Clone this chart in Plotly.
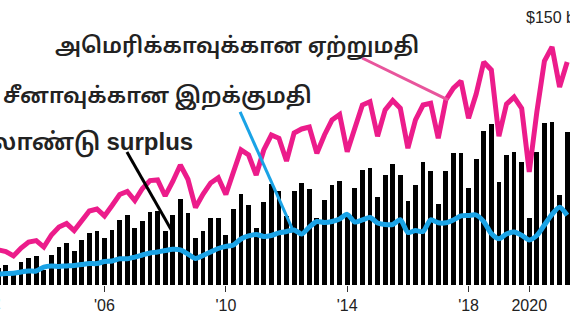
import plotly.graph_objects as go

# Quarterly US-China trade, $ billions
quarters = [
    "2002Q3", "2002Q4",
    "2003Q1", "2003Q2", "2003Q3", "2003Q4",
    "2004Q1", "2004Q2", "2004Q3", "2004Q4",
    "2005Q1", "2005Q2", "2005Q3", "2005Q4",
    "2006Q1", "2006Q2", "2006Q3", "2006Q4",
    "2007Q1", "2007Q2", "2007Q3", "2007Q4",
    "2008Q1", "2008Q2", "2008Q3", "2008Q4",
    "2009Q1", "2009Q2", "2009Q3", "2009Q4",
    "2010Q1", "2010Q2", "2010Q3", "2010Q4",
    "2011Q1", "2011Q2", "2011Q3", "2011Q4",
    "2012Q1", "2012Q2", "2012Q3", "2012Q4",
    "2013Q1", "2013Q2", "2013Q3", "2013Q4",
    "2014Q1", "2014Q2", "2014Q3", "2014Q4",
    "2015Q1", "2015Q2", "2015Q3", "2015Q4",
    "2016Q1", "2016Q2", "2016Q3", "2016Q4",
    "2017Q1", "2017Q2", "2017Q3", "2017Q4",
    "2018Q1", "2018Q2", "2018Q3", "2018Q4",
    "2019Q1", "2019Q2", "2019Q3", "2019Q4",
    "2020Q1", "2020Q2", "2020Q3", "2020Q4",
    "2021Q1", "2021Q2",
]

# Quarterly surplus (bars)
surplus = [
    10.7, 12.4,
    7.6, 14.5, 17.2, 18.1,
    9.5, 19.1, 23.9, 26.5,
    21.6, 28.2, 32.9, 33.8,
    29.6, 34.7, 41.0, 43.9,
    35.7, 40.5, 46.2, 46.4,
    33.9, 43.9, 53.9, 45.4,
    29.7, 33.9, 42.2, 42.2,
    31.6, 48.0, 57.6, 50.4,
    35.6, 52.0, 63.5, 59.0,
    43.5, 59.5, 64.4, 60.3,
    42.1, 53.7, 62.7, 65.8,
    44.1, 61.2, 72.7, 73.6,
    55.4, 69.6, 76.5, 69.3,
    52.8, 62.9, 77.7, 71.7,
    51.3, 71.7, 83.3, 83.3,
    60.9, 79.2, 97.2, 101.4,
    65.1, 81.9, 84.0, 77.3,
    42.0, 84.0, 102.2, 102.9,
    56.7, 96.6,
]

# Exports to the US (pink line)
exports_us = [
    22.1, 21.1,
    18.3, 23.3, 27.1, 28.0,
    23.9, 31.5, 36.5, 38.7,
    34.3, 41.0, 46.6, 47.9,
    43.5, 50.1, 57.0, 58.9,
    53.2, 60.8, 65.8, 66.2,
    56.1, 65.2, 75.6, 66.6,
    48.8, 57.3, 64.3, 67.6,
    57.0, 71.2, 85.1, 81.9,
    69.3, 85.1, 94.5, 92.4,
    78.1, 95.8, 98.3, 99.5,
    83.0, 94.5, 104.0, 107.4,
    84.0, 98.7, 113.4, 115.5,
    93.7, 110.3, 116.2, 111.3,
    86.2, 104.0, 113.4, 114.5,
    92.5, 116.6, 124.0, 128.5,
    105.1, 120.3, 140.5, 135.5,
    93.7, 114.0, 118.4, 111.3,
    71.2, 109.0, 141.1, 149.9,
    124.7, 140.5,
]

# Imports from the US (blue line)
imports_cn = [
    6.9, 7.2,
    7.4, 8.2, 8.8, 8.8,
    11.3, 12.0, 11.7, 12.0,
    12.3, 12.9, 13.5, 13.5,
    14.8, 15.1, 16.5, 16.5,
    17.6, 18.9, 20.2, 20.8,
    21.7, 22.5, 22.1, 19.5,
    16.7, 18.6, 20.8, 23.0,
    24.3, 25.2, 29.0, 30.9,
    31.8, 30.6, 31.2, 32.8,
    33.7, 34.7, 32.1, 36.5,
    40.0, 39.4, 40.0, 41.6,
    44.5, 39.7, 41.0, 42.5,
    39.1, 38.1, 38.1, 41.1,
    33.1, 34.3, 33.7, 41.1,
    39.2, 39.2, 41.0, 43.5,
    43.8, 44.1, 40.0, 32.4,
    29.1, 32.1, 33.4, 31.3,
    28.4, 31.2, 37.8, 44.5,
    49.0, 44.0,
]

tick_years = [2002, 2006, 2010, 2014, 2018, 2020]
tick_text = ["2002", "'06", "'10", "'14", "'18", "2020"]
unit_value = 150
unit_text = "$150 b"

LATIN_FONT = "Liberation Sans, Arial, Helvetica, sans-serif"
label_exports = "அமெரிக்காவுக்கான ஏற்றுமதி"
label_imports = "சீனாவுக்கான இறக்குமதி"
label_surplus = ("காலாண்டு <span style=\"font-family:'Liberation Sans'\">"
                 "surplus</span>")

PINK = "#ec1c8b"
BLUE = "#1aa3e6"
INK = "#222222"
TAMIL_FONT = "Noto Sans Tamil, Latha, Noto Sans, DejaVu Sans, sans-serif"


def quarter_to_year(q):
    year, n = q.split("Q")
    return int(year) + (int(n) - 1) / 4


x = [quarter_to_year(q) for q in quarters]
x_range = [2002.556, 2021.343]
y_range = [0, 179.55]

fig = go.Figure()
fig.add_trace(go.Bar(
    x=x, y=surplus, width=0.158,
    marker=dict(color="#000000", line=dict(width=0)),
    hoverinfo="skip",
))
fig.add_trace(go.Scatter(
    x=x, y=imports_cn, mode="lines",
    line=dict(color=BLUE, width=5, shape="spline", smoothing=0.7),
    hoverinfo="skip",
))
fig.add_trace(go.Scatter(
    x=x, y=exports_us, mode="lines",
    line=dict(color=PINK, width=5),
    hoverinfo="skip",
))

# pointer lines from labels to series
pointers = [
    dict(x0=2014.49, y0=143.0, x1=2017.32, y1=116.6, color="#e8559c"),
    dict(x0=2010.47, y0=109.0, x1=2012.18, y1=35.9, color=BLUE),
    dict(x0=2006.74, y0=83.8, x1=2008.26, y1=32.8, color="#000000"),
]
for p in pointers:
    fig.add_shape(type="line", xref="x", yref="y",
                  x0=p["x0"], y0=p["y0"], x1=p["x1"], y1=p["y1"],
                  line=dict(color=p["color"], width=3))

label_font = dict(family=TAMIL_FONT, size=22, color=INK, weight=600)
fig.add_annotation(text=label_exports, xref="paper", yref="paper",
                   x=237 / 570, y=1 - 47 / 285, xanchor="center", yanchor="middle",
                   showarrow=False, font=label_font)
fig.add_annotation(text=label_imports, xref="paper", yref="paper",
                   x=314 / 570, y=1 - 98 / 285, xanchor="right", yanchor="middle",
                   showarrow=False, font=label_font)
fig.add_annotation(text=label_surplus, xref="paper", yref="paper",
                   x=195 / 570, y=1 - 143 / 285, xanchor="right", yanchor="middle",
                   showarrow=False, font=dict(label_font, size=24))

# unit label for the top value, set on the right edge
fig.add_annotation(text=unit_text, xref="paper", yref="y",
                   x=524 / 570, y=unit_value, yshift=29, xanchor="left", yanchor="middle",
                   showarrow=False, font=dict(family=LATIN_FONT, size=16, color=INK))

# first year label sits just left of the visible range
first_tick_paper = (tick_years[0] - x_range[0]) / (x_range[1] - x_range[0])
fig.add_annotation(text=tick_text[0], xref="paper", yref="paper",
                   x=first_tick_paper, y=0, yshift=-8, xanchor="center", yanchor="top",
                   showarrow=False,
                   font=dict(family=LATIN_FONT, size=16, color=INK))

fig.update_layout(
    width=570, height=324,
    margin=dict(l=0, r=0, t=0, b=39, autoexpand=False),
    paper_bgcolor="white", plot_bgcolor="white",
    showlegend=False, bargap=0,
    font=dict(family=LATIN_FONT, size=16, color=INK),
)
fig.update_xaxes(
    range=x_range, tickvals=tick_years, ticktext=tick_text,
    ticks="outside", ticklen=6, tickwidth=1, tickcolor="#333",
    showgrid=False, zeroline=False, showline=False, automargin=False,
    tickfont=dict(size=16, color=INK),
)
fig.update_yaxes(
    range=y_range, showticklabels=False, ticks="",
    showgrid=False, zeroline=False, showline=False, automargin=False,
)

fig.write_html("out.html")
